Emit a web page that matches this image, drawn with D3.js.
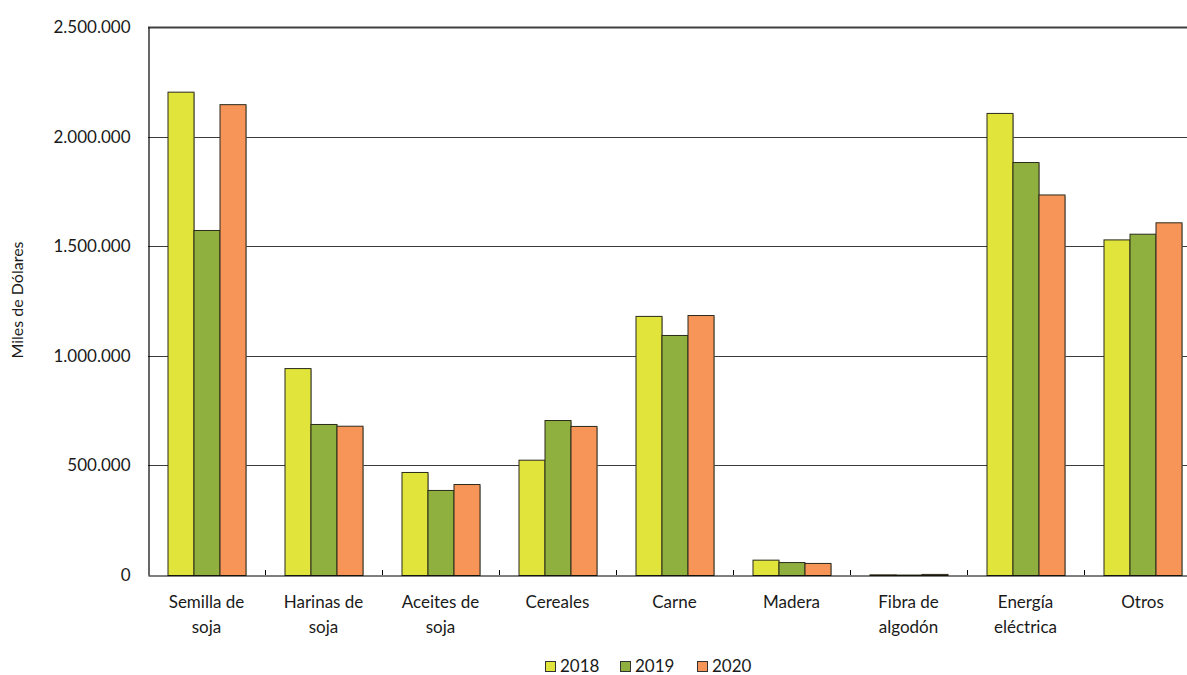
<!DOCTYPE html>
<html><head><meta charset="utf-8">
<script src="https://cdn.jsdelivr.net/npm/d3@7"></script>
<style>body{margin:0;background:#fff}svg{display:block}text{font-family:Lato,"Open Sans",sans-serif;fill:#1a1a1a}</style>
</head><body><svg id="c" width="1187" height="675"></svg>
<script>
const categories = [["Semilla de","soja"],["Harinas de","soja"],["Aceites de","soja"],["Cereales"],["Carne"],["Madera"],["Fibra de","algodón"],["Energía","eléctrica"],["Otros"]];
const years = ["2018","2019","2020"];
const v2018 = [2205000, 944000, 470000, 526000, 1182000, 70000, 3000, 2108000, 1531000];
const v2019 = [1574000, 689000, 388000, 707000, 1095000, 59000, 2000, 1884000, 1557000];
const v2020 = [2148000, 681000, 415000, 680000, 1186000, 55000, 5000, 1736000, 1609000];
const yTicks = [0, 500000, 1000000, 1500000, 2000000, 2500000];
const colors = ["#E1E43A", "#8FB03F", "#F79559"];
const series = [v2018, v2019, v2020];

const svg = d3.select("#c");
const L = 148, R = 1201, T = 27, B = 575;
const x = d3.scaleBand().domain(d3.range(categories.length)).range([L, R]).paddingInner(0).paddingOuter(0);
const inner = d3.scaleBand().domain(years).range([0, x.bandwidth()]).paddingInner(0).paddingOuter(0.75);
const y = d3.scaleLinear().domain([0, 2500000]).range([B, T]);
const fmt = d => d === 0 ? "0" : d3.format(",")(d).replace(/,/g, ".");

// gridlines
svg.append("g").selectAll("line").data(yTicks.filter(d => d > 0 && d < 2500000)).join("line")
  .attr("x1", L).attr("x2", R).attr("y1", d => Math.round(y(d)) + 0.5).attr("y2", d => Math.round(y(d)) + 0.5)
  .attr("stroke", "#3a3a3a").attr("stroke-width", 1);
// top border
svg.append("line").attr("x1", L).attr("x2", R).attr("y1", T + 0.5).attr("y2", T + 0.5).attr("stroke", "#404040").attr("stroke-width", 2);

// bars
const g = svg.append("g");
series.forEach((vals, si) => {
  const grp = g.append("g");
  grp.selectAll("rect.sh").data(vals).join("rect").attr("class", "sh")
    .attr("x", (d, i) => x(i) + inner(years[si]) + 1.5)
    .attr("y", d => y(d) + 1.5)
    .attr("width", inner.bandwidth())
    .attr("height", d => Math.max(0, B - y(d) - 1.5))
    .attr("fill", "#9a9a9a").attr("opacity", 0.6);
  grp.selectAll("rect.b").data(vals).join("rect").attr("class", "b")
    .attr("x", (d, i) => x(i) + inner(years[si]) + 0.5)
    .attr("y", d => y(d) + 0.5)
    .attr("width", inner.bandwidth())
    .attr("height", d => Math.max(0, B - y(d)))
    .attr("fill", colors[si]).attr("stroke", "#2a2a1a").attr("stroke-width", 1);
});

// y axis
const ya = svg.append("g").attr("transform", `translate(${L + 0.5},0)`)
  .call(d3.axisLeft(y).tickValues(yTicks).tickFormat(fmt).tickSize(0).tickPadding(18));
ya.select(".domain").attr("stroke", "#000").attr("stroke-width", 1.2);
ya.selectAll("text").attr("font-size", 17).attr("font-family", "Lato").attr("fill", "#1a1a1a");

// x axis
const xa = svg.append("g").attr("transform", `translate(0,${B + 0.5})`)
  .call(d3.axisBottom(x).tickSize(0).tickFormat(""));
xa.select(".domain").attr("stroke", "#000").attr("stroke-width", 1.2);
xa.selectAll(".tick").remove();
svg.append("g").selectAll("line").data(d3.range(1, categories.length)).join("line")
  .attr("x1", d => Math.round(x(d)) + 0.5).attr("x2", d => Math.round(x(d)) + 0.5)
  .attr("y1", B).attr("y2", B - 5).attr("stroke", "#000");

// category labels
const cl = svg.append("g");
categories.forEach((lines, i) => {
  const t = cl.append("text").attr("x", x(i) + x.bandwidth() / 2).attr("y", 608)
    .attr("text-anchor", "middle").attr("font-size", 17);
  lines.forEach((ln, j) => t.append("tspan").attr("x", x(i) + x.bandwidth() / 2).attr("dy", j === 0 ? 0 : 25).text(ln));
});

// y label
svg.append("text").attr("transform", "translate(23,300) rotate(-90)").attr("text-anchor", "middle")
  .attr("font-size", 16).text("Miles de Dólares");

// legend
const lx = [545, 620, 697];
const lg = svg.append("g");
years.forEach((yr, i) => {
  lg.append("rect").attr("x", lx[i] + 0.5).attr("y", 661.5).attr("width", 10).attr("height", 10)
    .attr("fill", colors[i]).attr("stroke", "#333");
  lg.append("text").attr("x", lx[i] + 15).attr("y", 672).attr("font-size", 17).text(yr);
});
</script></body></html>
